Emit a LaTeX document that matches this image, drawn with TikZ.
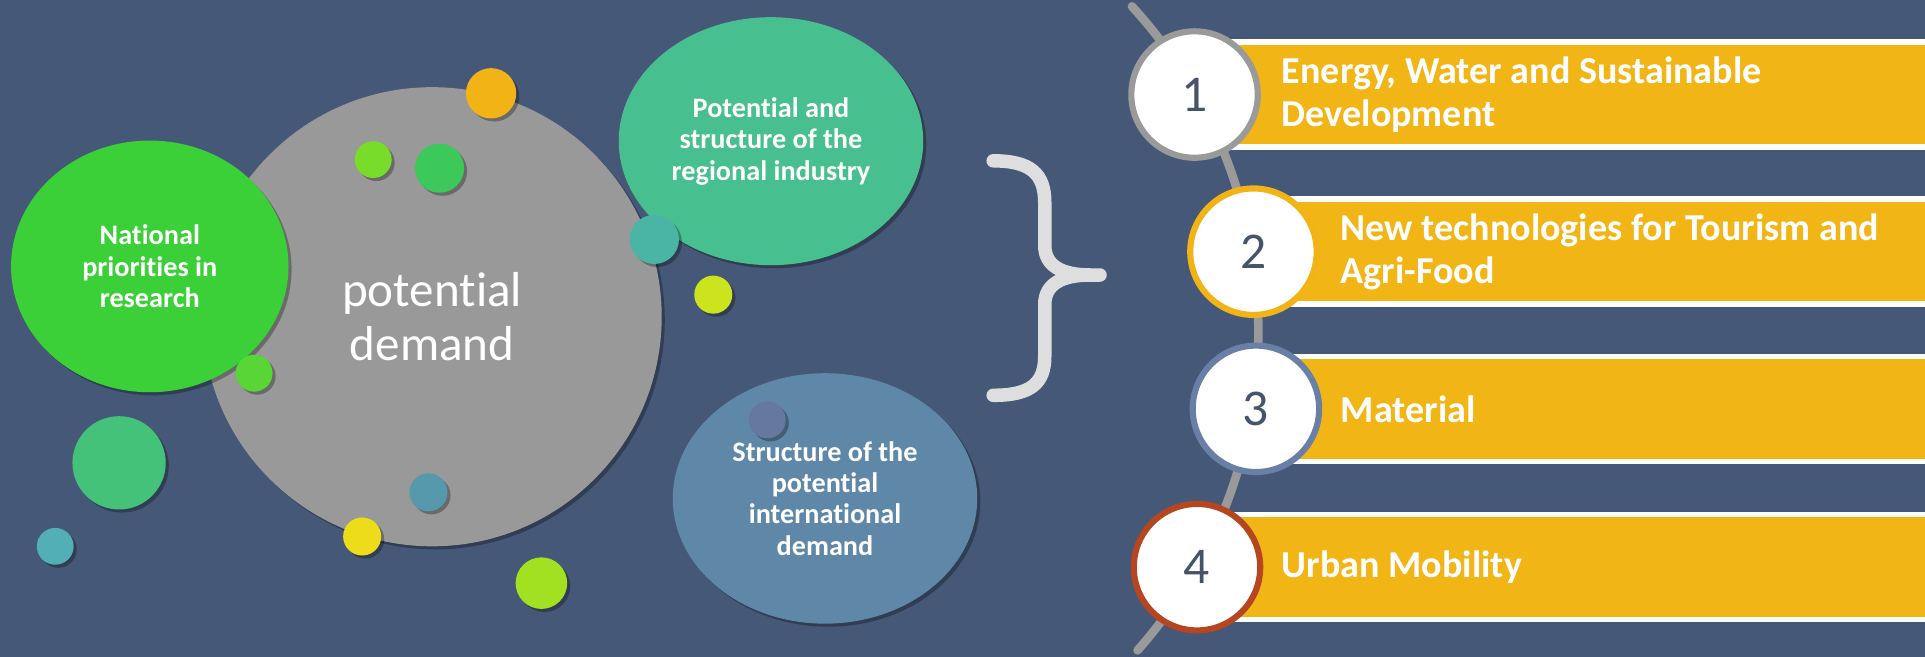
\documentclass[tikz,border=0pt]{standalone}
\usepackage{fontspec}
\setmainfont{Carlito}[RawFeature={-liga}]
\usetikzlibrary{shapes.geometric,shadows}
\definecolor{bg}{HTML}{465878}
\definecolor{graybig}{HTML}{999999}
\definecolor{natgreen}{HTML}{3BCF38}
\definecolor{tealell}{HTML}{48BF8E}
\definecolor{blueell}{HTML}{5F87A7}
\definecolor{barcol}{HTML}{F2B516}
\definecolor{numtxt}{HTML}{44546A}
\definecolor{ringgray}{HTML}{9A9A9A}
\definecolor{ringorange}{HTML}{F2B316}
\definecolor{ringslate}{HTML}{6A7FA6}
\definecolor{ringrust}{HTML}{B5461F}
\definecolor{bracecol}{HTML}{DEDEDE}
\definecolor{cOrange}{HTML}{F2B316}
\definecolor{cLgreen}{HTML}{77DD2A}
\definecolor{cGreen}{HTML}{3CC95A}
\definecolor{cTeal}{HTML}{4BB5A5}
\definecolor{cLgreenB}{HTML}{58D636}
\definecolor{cBigGreen}{HTML}{44C27A}
\definecolor{cSmTeal}{HTML}{52AFB5}
\definecolor{cBlueTeal}{HTML}{5699AC}
\definecolor{cYellow}{HTML}{EDDC1A}
\definecolor{cLime}{HTML}{A2E122}
\definecolor{cYgreen}{HTML}{CCE41E}
\definecolor{cSlate}{HTML}{67789E}
\tikzset{
  shad/.style={drop shadow={shadow xshift=2.5pt,shadow yshift=-2.5pt,opacity=0.3,fill=black}},
  dot/.style={circle,inner sep=0pt,minimum size=#1,draw=none,shad},
  bubble/.style={ellipse,inner sep=0pt,draw=none,align=center,text=white,
    font=\bfseries\fontsize{23}{25.5}\selectfont,shad},
  numcirc/.style={circle,fill=white,line width=5pt,minimum size=103pt,inner sep=0pt,
    text=numtxt,font=\fontsize{42}{48}\selectfont},
  bartext/.style={anchor=west,align=left,text=white,inner sep=0pt,
    font=\bfseries\fontsize{31}{35}\selectfont},
  spine/.style={draw=ringgray,line width=7pt,line cap=round},
  bracestyle/.style={draw=bracecol,line width=11pt,line cap=round,line join=round}
}
\begin{document}
\begin{tikzpicture}[x=1pt,y=-1pt]
\fill[bg] (0,0) rectangle (1568,535);
\useasboundingbox (0,0) rectangle (1568,535);

% big grey circle
\node[dot=374pt,fill=graybig,text=white,align=center,
      font=\fontsize{40}{44}\selectfont] (pd) at (352,258) {potential\\demand};
% national priorities
\node[bubble,fill=natgreen,minimum width=226pt,minimum height=205pt] (np) at (122,217)
  {National\\priorities in\\research};
% regional industry
\node[bubble,fill=tealell,minimum width=248pt,minimum height=202pt] (ri) at (628,115)
  {Potential and\\structure of the\\regional industry};
% international demand
\node[bubble,fill=blueell,minimum width=248pt,minimum height=204pt] (id) at (672,406)
  {Structure of the\\potential\\international\\demand};

% small dots
\node[dot=41pt,fill=cOrange] (d1) at (400,76) {};
\node[dot=30pt,fill=cLgreen] (d2) at (304,130) {};
\node[dot=40pt,fill=cGreen] (d3) at (358,137) {};
\node[dot=40pt,fill=cTeal] (d4) at (533,195) {};
\node[dot=30pt,fill=cLgreenB] (d5) at (207,304) {};
\node[dot=76pt,fill=cBigGreen] (d6) at (97,377) {};
\node[dot=30pt,fill=cSmTeal] (d7) at (45,445) {};
\node[dot=31pt,fill=cBlueTeal] (d8) at (349,401) {};
\node[dot=31pt,fill=cYellow] (d9) at (295,437) {};
\node[dot=42pt,fill=cLime] (d10) at (441,475) {};
\node[dot=31pt,fill=cYgreen] (d11) at (581,240) {};
\node[dot=30pt,fill=cSlate] (d12) at (625,342) {};

% brace
\draw[bracestyle] (809,131) .. controls (840,131) and (851,142) .. (851,165)
  -- (851,200) .. controls (851,216) and (864,224) .. (888,224) -- (896,224)
  (888,224) .. controls (864,224) and (851,232) .. (851,248)
  -- (851,290) .. controls (851,312) and (840,322) .. (809,322);

% spine
\draw[spine] (633,270) ++(-42.5:392) arc[start angle=-42.5,end angle=41.5,radius=392];

% bars
\foreach \cx/\cy in {973/77,1021/205,1023/333,975/462}{
  \fill[white] (\cx,\cy-45) rectangle (1568,\cy+45);
  \fill[barcol] (\cx,\cy-40.5) rectangle (1568,\cy+40.5);
}

% numbered circles
\node[numcirc,draw=ringgray] (c1) at (973,77) {1};
\node[numcirc,draw=ringorange] (c2) at (1021,205) {2};
\node[numcirc,draw=ringslate] (c3) at (1023,333) {3};
\node[numcirc,draw=ringrust] (c4) at (975,462) {4};

% bar texts
\node[bartext] (t1) at (1044,77) {Energy, Water and Sustainable\\Development};
\node[bartext] (t2) at (1092,205) {New technologies for Tourism and\\Agri-Food};
\node[bartext] (t3) at (1092,333) {Material};
\node[bartext] (t4) at (1044,462) {Urban Mobility};
\end{tikzpicture}
\end{document}
